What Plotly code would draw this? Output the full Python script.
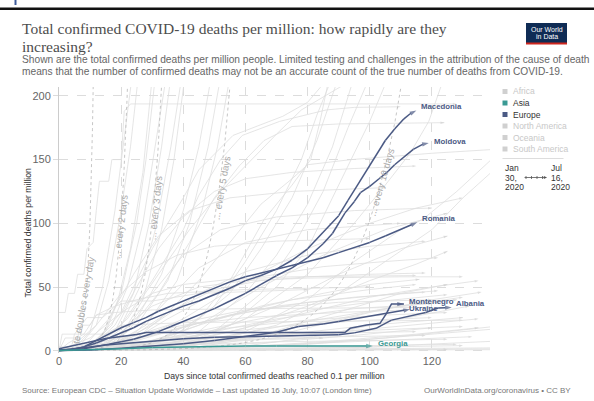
import plotly.graph_objects as go

# ---------------- data ----------------
X_TICKS = [0, 20, 40, 60, 80, 100, 120]
Y_TICKS = [0, 50, 100, 150, 200]

MACEDONIA_DAYS = [0, 4, 8, 12, 16, 20, 24, 28, 32, 36, 40, 45, 50, 55, 60, 65, 70, 75, 80, 85, 88, 90, 93, 96, 99, 102, 105, 108, 111, 113, 115]
MACEDONIA_VALUES = [0.5, 1, 3, 6, 10, 14, 18, 23, 27, 31, 35, 39, 44, 49, 55, 59, 64, 71, 80, 93, 100, 106, 118, 130, 141, 154, 165, 174, 182, 186, 188.5]

MOLDOVA_DAYS = [0, 4, 8, 12, 16, 20, 24, 28, 32, 36, 40, 45, 50, 55, 60, 65, 70, 75, 80, 85, 88, 92, 95, 97, 100, 103, 106, 108, 111, 114, 117, 119]
MOLDOVA_VALUES = [0.25, 0.5, 1.5, 3, 5, 7, 9, 12, 15, 19, 23, 28, 33, 39, 45, 52, 59, 65, 73, 84, 92, 108, 117, 124, 129, 135, 141, 146, 152, 158, 162, 163]

ROMANIA_DAYS = [0, 4, 8, 12, 16, 20, 24, 28, 32, 36, 40, 45, 50, 55, 60, 65, 70, 75, 80, 85, 90, 95, 100, 105, 110, 115.3]
ROMANIA_VALUES = [0.1, 0.8, 3, 8, 13, 18, 22, 26, 31, 35, 39, 44, 49, 54, 58, 61, 64, 67, 70, 73, 77, 81, 85, 90, 95, 100.8]

MONTENEGRO_DAYS = [0, 3, 6, 9, 12, 15, 20, 25, 28, 92, 93.7, 99, 103.3, 105.4, 106.5, 107, 111]
MONTENEGRO_VALUES = [1.6, 3.2, 4.8, 6.4, 7.9, 9.5, 11.1, 12.7, 14.3, 14.3, 17.6, 20.2, 21.5, 29.3, 34.6, 36.6, 36.6]

UKRAINE_DAYS = [0, 10, 20, 30, 40, 50, 60, 70, 77, 85, 90, 95, 100, 105, 110, 113]
UKRAINE_VALUES = [0.1, 0.6, 2, 3.5, 5.5, 8, 11, 14.5, 19, 21, 23, 25, 27, 29, 31, 32.5]

ALBANIA_DAYS = [0, 5, 10, 15, 20, 25, 30, 40, 50, 60, 70, 80, 90, 95, 98, 102, 107, 115, 118, 122, 126.4]
ALBANIA_VALUES = [0.35, 1.5, 3, 4.5, 5.5, 6.5, 8, 9.4, 10.5, 11, 11.2, 11.5, 12.5, 14, 15.5, 17.6, 24, 28, 30, 33.5, 34]

GEORGIA_DAYS = [0, 10, 20, 30, 40, 50, 60, 70, 80, 90, 101]
GEORGIA_VALUES = [0.25, 0.75, 1.5, 2.5, 3, 3.3, 3.6, 3.7, 3.7, 3.7, 3.7]

EUROPE_SERIES = [
    ("Macedonia", MACEDONIA_DAYS, MACEDONIA_VALUES),
    ("Moldova", MOLDOVA_DAYS, MOLDOVA_VALUES),
    ("Romania", ROMANIA_DAYS, ROMANIA_VALUES),
    ("Montenegro", MONTENEGRO_DAYS, MONTENEGRO_VALUES),
    ("Ukraine", UKRAINE_DAYS, UKRAINE_VALUES),
    ("Albania", ALBANIA_DAYS, ALBANIA_VALUES),
]
ASIA_SERIES = [("Georgia", GEORGIA_DAYS, GEORGIA_VALUES)]

# other (unhighlighted) countries as [day, value]
GRAY_LINES = [
    [[0, 0.1], [5, 2], [10, 15], [14, 50], [18, 110], [21, 170], [23.5, 215]],
    [[0, 0.1], [6, 2], [12, 20], [16, 55], [20, 110], [23, 160], [25.5, 215]],
    [[0, 0.1], [8, 2], [14, 12], [19, 40], [23, 80], [27, 140], [30, 215]],
    [[0, 0.1], [8, 1.5], [15, 15], [20, 45], [25, 100], [28, 150], [31, 215]],
    [[0, 0.1], [10, 3], [17, 20], [22, 50], [27, 100], [31, 160], [34.5, 215]],
    [[0, 0.1], [10, 2], [18, 15], [24, 45], [29, 100], [33, 160], [36, 215]],
    [[0, 0.1], [12, 3], [20, 20], [26, 50], [31, 95], [36, 160], [39.5, 215]],
    [[0, 0.1], [12, 2], [20, 12], [27, 40], [33, 95], [37, 150], [40.5, 215]],
    [[0, 0.1], [15, 4], [25, 25], [33, 60], [40, 110], [45, 160], [49, 215]],
    [[0, 0.1], [15, 3], [25, 20], [35, 55], [42, 100], [48, 160], [52, 215]],
    [[0, 0.1], [15, 2], [28, 20], [38, 55], [46, 110], [51, 160], [55, 215]],
    [[0, 30], [2, 30], [3, 45], [5, 45], [6, 60], [8, 60], [9, 80], [11, 85], [12, 110], [13, 133], [16, 133], [17, 150], [20, 150], [21, 188], [23, 193.7], [128, 193.7]],
    [[0, 0.1], [10, 3], [20, 30], [30, 80], [40, 120], [45, 142], [56, 169], [72, 184], [80, 195], [87, 215]],
    [[0, 0.1], [10, 3], [20, 20], [30, 55], [40, 95], [45, 122], [52, 150], [59, 169], [71, 180], [86, 189], [95, 191], [110, 191.5]],
    [[0, 0.1], [12, 2], [22, 15], [32, 45], [42, 85], [50, 120], [58, 145], [66, 165], [75, 176], [90, 178], [124, 179]],
    [[0, 0.1], [12, 4], [22, 25], [32, 60], [42, 95], [52, 125], [62, 150], [70, 170], [78, 189], [88, 203], [96, 215]],
    [[0, 0.1], [15, 2], [25, 10], [35, 30], [45, 55], [55, 85], [65, 115], [75, 135], [80, 146], [94, 150], [120, 155], [140, 158]],
    [[0, 0.1], [15, 1], [30, 6], [45, 25], [55, 55], [66, 103], [75, 130], [81, 150], [84, 180], [87, 215]],
    [[0, 0.1], [20, 1], [35, 8], [50, 35], [60, 70], [70, 110], [78, 150], [83, 185], [88, 215]],
    [[0, 0.1], [20, 1.5], [40, 15], [55, 45], [65, 80], [75, 120], [83, 165], [90, 215]],
    [[0, 0.1], [25, 2], [45, 15], [60, 45], [70, 75], [80, 115], [88, 160], [95, 215]],
    [[0, 0.1], [30, 2], [50, 15], [65, 45], [75, 80], [85, 125], [93, 175], [100, 215]],
    [[0, 0.1], [30, 2], [55, 20], [70, 50], [80, 80], [92, 140], [100, 180], [106, 215]],
    [[0, 0.1], [40, 5], [60, 25], [80, 60], [95, 100], [105, 130], [113, 155], [119, 180], [124, 215]],
    [[0, 0.1], [40, 3], [60, 15], [80, 40], [95, 70], [110, 95], [117, 103], [128, 125], [140, 152]],
    [[0, 0.1], [40, 2], [70, 20], [90, 45], [105, 70], [120, 95], [130, 120], [140, 142]],
    [[0, 0.1], [10, 2], [18, 20], [25, 50], [32, 80], [40, 105], [50, 125], [60, 135], [75, 140], [95, 143], [115, 145]],
    [[0, 0.1], [8, 3], [16, 25], [24, 60], [32, 90], [42, 110], [55, 120], [75, 125], [105, 128]],
    [[0, 0.1], [12, 2], [22, 18], [30, 45], [40, 75], [52, 95], [70, 105], [95, 110], [120, 112]],
    [[0, 0.1], [15, 2], [25, 15], [35, 40], [45, 65], [60, 85], [80, 95], [110, 100]],
    [[0, 0.1], [5, 5], [12, 20], [20, 45], [28, 62], [38, 75], [50, 82], [70, 86], [100, 88]],
    [[0, 0.1], [3, 6], [8, 13], [12, 28], [18, 35], [25, 40], [35, 45], [60, 48], [100, 50]],
    [[0, 0.1], [2, 10], [6, 10], [7, 20], [10, 20], [12, 28], [18, 30], [30, 32], [60, 33], [100, 34], [120, 34]],
    [[0, 0.1], [1, 13], [5, 13], [9, 26], [14, 26], [20, 39], [30, 39], [45, 45], [80, 48]],
    [[0, 3], [4, 3], [5, 13], [15, 13], [20, 20], [40, 22], [80, 23], [130, 24]],
    [[0, 0.1], [20, 3], [40, 25], [60, 55], [80, 80], [100, 100], [115, 112], [130, 120]],
    [[0, 0.1], [25, 2], [45, 20], [65, 50], [85, 75], [105, 95], [125, 108]],
    [[0, 0.1], [15, 2], [30, 20], [45, 45], [60, 62], [80, 75], [100, 82], [118, 86]],
    [[0, 0.1], [20, 3], [35, 25], [50, 45], [65, 58], [85, 66], [105, 70], [122, 73]],
    [[0, 0.1], [30, 2], [50, 15], [70, 35], [90, 60], [110, 80], [125, 90]],
    [[0, 0.1], [35, 3], [60, 18], [80, 35], [100, 55], [115, 68], [125, 78]],
    [[0, 0.1], [20, 5], [35, 30], [50, 48], [65, 55], [80, 58], [100, 60], [118, 61]],
    [[0, 0.1], [15, 8], [30, 35], [45, 50], [60, 55], [80, 57], [110, 58], [130, 58]],
    [[0, 0.1], [10, 10], [20, 30], [30, 45], [40, 52], [55, 56], [75, 58], [115, 59]],
    [[0, 0.1], [25, 4], [45, 20], [65, 35], [85, 45], [100, 52], [116, 56]],
    [[0, 0.1], [30, 3], [55, 15], [80, 30], [100, 42], [120, 50], [135, 55]],
    [[0, 0.1], [40, 3], [65, 12], [90, 30], [110, 45], [125, 52]],
    [[0, 0.1], [25, 5], [50, 18], [75, 30], [100, 38], [125, 44]],
    [[0, 0.1], [35, 4], [60, 14], [85, 25], [110, 35], [130, 42]],
    [[0, 0.1], [20, 6], [45, 22], [70, 35], [95, 42], [118, 46]],
    [[0, 0.1], [45, 3], [75, 15], [100, 30], [120, 40], [136, 46]],
    [[0, 0.1], [30, 12], [55, 28], [80, 38], [105, 44], [122, 47]],
    [[0, 0.1], [50, 6], [80, 20], [105, 33], [128, 40]],
    [[0, 0.1], [15, 4], [35, 20], [60, 32], [90, 38], [120, 40]],
    [[0, 0.1], [55, 2], [85, 12], [110, 25], [132, 35]],
    [[0, 0.1], [25, 8], [50, 25], [75, 40], [100, 48], [115, 52]],
    [[0, 0.1], [40, 10], [70, 25], [95, 33], [120, 37]],
    [[0, 0.1], [30, 2], [60, 8], [90, 15], [120, 22], [135, 25]],
    [[0, 0.1], [20, 3], [50, 10], [80, 14], [110, 17], [130, 19]],
    [[0, 0.1], [40, 1], [70, 4], [100, 9], [125, 14], [140, 17]],
    [[0, 0.1], [25, 1], [55, 3], [85, 6], [115, 9], [133, 11]],
    [[0, 0.1], [15, 1], [40, 2], [70, 3], [100, 4], [128, 5]],
    [[0, 0.1], [30, 0.5], [60, 1], [90, 1.5], [120, 2], [145, 2.3]],
    [[0, 0.1], [20, 0.5], [50, 0.8], [80, 1], [110, 1.2]],
    [[0, 0.1], [10, 1], [25, 3], [45, 5], [70, 7], [100, 8], [125, 9]],
    [[0, 0.1], [35, 2], [65, 6], [95, 12], [120, 18]],
    [[0, 0.1], [50, 2], [80, 5], [105, 10], [125, 15], [140, 19]],
    [[0, 0.1], [15, 2], [35, 6], [60, 9], [90, 11], [118, 12]],
    [[0, 0.1], [20, 4], [40, 9], [60, 12], [90, 14], [115, 15]],
    [[0, 0.1], [45, 1], [75, 2], [105, 3], [130, 4]],
    [[0, 0.1], [60, 0.5], [100, 1], [145, 1.5]],
    [[0, 0.1], [25, 6], [50, 14], [75, 20], [100, 24], [120, 26]],
    [[0, 0.1], [30, 8], [55, 18], [80, 24], [105, 28], [125, 30]],
    [[0, 0.1], [20, 10], [40, 20], [60, 26], [90, 30], [112, 32]],
    [[0, 0.1], [40, 5], [70, 12], [100, 20], [130, 26]],
    [[0, 0.1], [12, 1], [30, 4], [55, 8], [85, 10]],
    [[0, 0.1], [60, 3], [90, 8], [115, 13], [135, 18]],
    [[0, 0.1], [70, 1], [100, 3], [125, 6], [145, 8]],
    [[0, 0.1], [20, 1], [40, 1.5], [70, 2], [100, 2.5]],
    [[0, 0.1], [80, 0.4], [110, 0.6], [145, 0.8]],
    [[0, 0.1], [40, 0.3], [90, 0.6], [125, 0.9]],
]

DOUBLING_PERIODS = [1, 2, 3, 5, 10]
DOUBLING_LABELS = ["te doubles every day", "... every 2 days", "... every 3 days", "... every 5 days", "... every 10 days"]

LEGEND_ITEMS = ["Africa", "Asia", "Europe", "North America", "Oceania", "South America"]

# ---------------- style ----------------
EUROPE = "#4b5a84"
ASIA = "#3a9a94"
GRAY = "#dedede"
W, H = 594, 401
L, R, T, B = 59, 490, 87, 353


def px(x):
    return (x - L) / (R - L)


def py(y):
    return (B - y) / (B - T)


fig = go.Figure()

for pts in GRAY_LINES:
    d = [p[0] for p in pts]
    v = [p[1] for p in pts]
    fig.add_trace(go.Scatter(
        x=d, y=v, mode="lines+markers",
        line=dict(color=GRAY, width=0.8),
        marker=dict(symbol="arrow", size=[0] * (len(d) - 1) + [4], color="#d0d0d0",
                    angleref="previous", line=dict(width=0)),
        hoverinfo="skip", showlegend=False))

# doubling reference curves
for p in DOUBLING_PERIODS:
    xs, ys = [], []
    d = 0.0
    while True:
        val = 0.1 * 2 ** (d / p)
        xs.append(d)
        ys.append(val)
        if val > 230 or d > 140:
            break
        d += 0.02 * p
    fig.add_trace(go.Scatter(x=xs, y=ys, mode="lines",
                             line=dict(color="#b8b8b8", width=0.8, dash="dot"),
                             hoverinfo="skip", showlegend=False))

for name, d, v in EUROPE_SERIES + ASIA_SERIES:
    col = ASIA if name == "Georgia" else EUROPE
    fig.add_trace(go.Scatter(
        x=d, y=v, mode="lines+markers",
        line=dict(color=col, width=1.5),
        marker=dict(symbol="arrow", size=[0] * (len(d) - 1) + [7], color=col,
                    angleref="previous", line=dict(width=0)),
        hoverinfo="skip", showlegend=False))

annotations = []
shapes = []

# line labels
label_shift = {
    "Macedonia": (3, 4), "Moldova": (3, 2), "Romania": (3, 4),
    "Montenegro": (3, 2.5), "Ukraine": (-3, 1.0), "Albania": (2, 4), "Georgia": (3, 2),
}
for name, d, v in EUROPE_SERIES + ASIA_SERIES:
    col = ASIA if name == "Georgia" else EUROPE
    xs_, ys_ = label_shift[name]
    annotations.append(dict(x=d[-1], y=v[-1], xref="x", yref="y", text="<b>%s</b>" % name,
                            showarrow=False, xanchor="left", yanchor="middle",
                            xshift=xs_, yshift=ys_,
                            font=dict(size=7.8, color=col, family="Liberation Sans, Arial")))

# doubling labels (pixel positions and angles)
dbl_pos = [(83, 300, -80), (120, 227, -83), (155, 208, -84), (221, 188, -80), (381.5, 182.5, -74)]
for (x, y, a), t in zip(dbl_pos, DOUBLING_LABELS):
    annotations.append(dict(x=px(x), y=py(y), xref="paper", yref="paper", text=t, showarrow=False,
                            textangle=a, xanchor="center", yanchor="middle",
                            font=dict(size=9.5, color="#ababab", family="Liberation Sans, Arial")))

# title / subtitle
annotations += [
    dict(x=px(20), y=py(29), xref="paper", yref="paper", xanchor="left", yanchor="middle", showarrow=False,
         text="Total confirmed COVID-19 deaths per million: how rapidly are they",
         font=dict(size=15.5, color="#4d4d4d", family="Liberation Serif, Times New Roman, serif")),
    dict(x=px(20), y=py(46), xref="paper", yref="paper", xanchor="left", yanchor="middle", showarrow=False,
         text="increasing?",
         font=dict(size=15.5, color="#4d4d4d", family="Liberation Serif, Times New Roman, serif")),
    dict(x=px(20), y=py(59.5), xref="paper", yref="paper", xanchor="left", yanchor="middle", showarrow=False,
         text="Shown are the total confirmed deaths per million people. Limited testing and challenges in the attribution of the cause of death",
         font=dict(size=10.2, color="#666", family="Liberation Sans, Arial")),
    dict(x=px(20), y=py(71.5), xref="paper", yref="paper", xanchor="left", yanchor="middle", showarrow=False,
         text="means that the number of confirmed deaths may not be an accurate count of the true number of deaths from COVID-19.",
         font=dict(size=10.2, color="#666", family="Liberation Sans, Arial")),
    # axis titles
    dict(x=px(274.5), y=py(376), xref="paper", yref="paper", xanchor="center", yanchor="middle", showarrow=False,
         text="Days since total confirmed deaths reached 0.1 per million",
         font=dict(size=8.7, color="#333", family="Liberation Sans, Arial")),
    dict(x=px(27.5), y=py(233), xref="paper", yref="paper", xanchor="center", yanchor="middle", showarrow=False,
         text="Total confirmed deaths per million", textangle=-90,
         font=dict(size=8.7, color="#333", family="Liberation Sans, Arial")),
    # footer
    dict(x=px(20), y=py(390), xref="paper", yref="paper", xanchor="left", yanchor="middle", showarrow=False,
         text="Source: European CDC – Situation Update Worldwide – Last updated 16 July, 10:07 (London time)",
         font=dict(size=8, color="#777", family="Liberation Sans, Arial")),
    dict(x=px(573), y=py(390), xref="paper", yref="paper", xanchor="right", yanchor="middle", showarrow=False,
         text="OurWorldInData.org/coronavirus • CC BY",
         font=dict(size=8, color="#777", family="Liberation Sans, Arial")),
    # logo text
    dict(x=px(546.5), y=py(29.5), xref="paper", yref="paper", xanchor="center", yanchor="middle", showarrow=False,
         text="Our World", font=dict(size=7, color="white", family="Liberation Sans, Arial")),
    dict(x=px(546.5), y=py(37), xref="paper", yref="paper", xanchor="center", yanchor="middle", showarrow=False,
         text="in Data", font=dict(size=7, color="white", family="Liberation Sans, Arial")),
]

# top bar, page marker, logo
shapes += [
    dict(type="rect", xref="paper", yref="paper", x0=px(0), x1=px(594), y0=py(10), y1=py(7.5),
         fillcolor="#111", line=dict(width=0), layer="above"),
    dict(type="rect", xref="paper", yref="paper", x0=px(14.5), x1=px(16.5), y0=py(5), y1=py(0),
         fillcolor="#3c5a9a", line=dict(width=0)),
    dict(type="rect", xref="paper", yref="paper", x0=px(526), x1=px(567), y0=py(44), y1=py(23),
         fillcolor="#0f2c55", line=dict(width=0)),
    dict(type="rect", xref="paper", yref="paper", x0=px(526), x1=px(567), y0=py(44.5), y1=py(42.5),
         fillcolor="#ce261e", line=dict(width=0)),
]

# legend
leg_y0, leg_step = 91.5, 11.5
for i, name in enumerate(LEGEND_ITEMS):
    yc = leg_y0 + i * leg_step
    if name == "Asia":
        sq, tc = ASIA, "#333"
    elif name == "Europe":
        sq, tc = EUROPE, "#333"
    else:
        sq, tc = "#d0d0d0", "#c8c8c8"
    shapes.append(dict(type="rect", xref="paper", yref="paper", x0=px(502.5), x1=px(507.5),
                       y0=py(yc + 2.5), y1=py(yc - 2.5), fillcolor=sq, line=dict(width=0)))
    annotations.append(dict(x=px(511), y=py(yc), xref="paper", yref="paper", xanchor="left", yanchor="middle",
                            showarrow=False, text=name,
                            font=dict(size=8.5, color=tc, family="Liberation Sans, Arial")))

shapes.append(dict(type="line", xref="paper", yref="paper", x0=px(502.5), x1=px(563.5), y0=py(158.5), y1=py(158.5),
                   line=dict(color="#dddddd", width=1)))
for j, t in enumerate(["Jan", "30,", "2020"]):
    annotations.append(dict(x=px(502.5), y=py(168 + j * 9.5), xref="paper", yref="paper", xanchor="left",
                            yanchor="middle", showarrow=False, text=t,
                            font=dict(size=8.5, color="#333", family="Liberation Sans, Arial")))
for j, t in enumerate(["Jul", "16,", "2020"]):
    annotations.append(dict(x=px(548.5), y=py(168 + j * 9.5), xref="paper", yref="paper", xanchor="left",
                            yanchor="middle", showarrow=False, text=t,
                            font=dict(size=8.5, color="#333", family="Liberation Sans, Arial")))
annotations.append(dict(x=px(547), y=py(177.5), ax=-24, ay=0, xref="paper", yref="paper",
                        axref="pixel", ayref="pixel", text="", showarrow=True, arrowhead=2,
                        arrowsize=0.8, arrowwidth=0.8, arrowcolor="#555"))
for xt in [526, 531.5, 537, 542.5]:
    shapes.append(dict(type="line", xref="paper", yref="paper", x0=px(xt), x1=px(xt),
                       y0=py(179), y1=py(176), line=dict(color="#555", width=0.8)))

fig.update_layout(
    width=W, height=H, autosize=False,
    margin=dict(l=L, r=W - R, t=T, b=H - B, pad=0),
    paper_bgcolor="white", plot_bgcolor="white", showlegend=False,
    font=dict(family="Liberation Sans, Arial, sans-serif"),
    xaxis=dict(range=[0, 138.7], tickvals=X_TICKS, showgrid=True, gridcolor="#dcdcdc", griddash="dash",
               gridwidth=0.8, zeroline=False, showline=False, ticks="",
               tickfont=dict(size=11, color="#666")),
    yaxis=dict(range=[-1.8, 207], tickvals=Y_TICKS, showgrid=True, gridcolor="#dcdcdc", griddash="dash",
               gridwidth=0.8, zeroline=False, showline=True, linecolor="#cccccc", linewidth=1,
               ticks="outside", ticklen=5, tickcolor="#dcdcdc", tickwidth=0.8,
               tickfont=dict(size=11, color="#666")),
    annotations=annotations, shapes=shapes,
)

fig.write_html("out.html", config={"displayModeBar": False},
               post_script="document.body.style.margin='0';document.body.style.overflow='hidden';")
